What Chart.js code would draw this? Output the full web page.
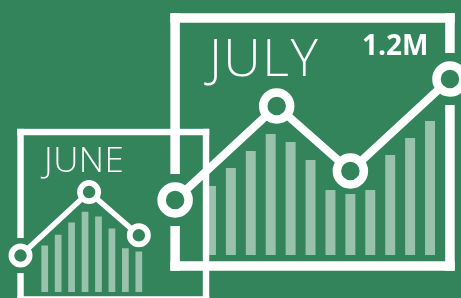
<!DOCTYPE html>
<html>
<head>
<meta charset="utf-8">
<script src="https://cdn.jsdelivr.net/npm/chart.js@4/dist/chart.umd.min.js"></script>
<style>
html, body { margin: 0; padding: 0; background: #33845b; overflow: hidden; }
#wrap { position: relative; width: 461px; height: 298px; }
canvas { position: absolute; left: 0; top: 0; }
.lbl { position: absolute; color: #fff; font-family: "Open Sans", sans-serif; line-height: 1; white-space: nowrap; }
</style>
</head>
<body>
<div id="wrap">
	<canvas id="julyChart" width="461" height="298"></canvas>
	<canvas id="juneChart" width="461" height="298"></canvas>
	<div class="lbl" style="left:209px;top:30px;font-size:52px;font-weight:350;letter-spacing:1.5px;">JULY</div>
	<div class="lbl" style="left:44px;top:141px;font-size:35px;font-weight:350;letter-spacing:0.5px;">JUNE</div>
	<div class="lbl" style="left:362px;top:30px;font-size:28px;font-weight:700;">1.2M</div>
</div>
<script>
var days = ['1', '2', '3', '4', '5', '6', '7', '8', '9', '10', '11', '12'];

var julyBars = [69, 87, 104, 121, 113, 95, 65, 61, 65, 100, 117, 134];
var julyLineX = [-1.8, 3.3, 7.0, 12.0];
var julyLineY = [55, 149, 84, 176];

var juneBars = [69, 85, 103, 119, 112, 94, 65, 60];
var juneLineX = [-1.8, 3.3, 7.0];
var juneLineY = [54, 148, 84];

// frame outline, in data units
var frameX = [-1.8, 12.0];
var frameY = [-11, 237];

var green = '#33845b';

// draws the white box round each chart, broken where a marker sits on it
var framePlugin = {
	id: 'frame',
	beforeDatasetsDraw: function (chart, args, opts) {
		var ctx = chart.ctx;
		var xs = chart.scales.x2, ys = chart.scales.y;
		var lw = opts.width;
		var l = xs.getPixelForValue(frameX[0]), r = xs.getPixelForValue(frameX[1]);
		var t = ys.getPixelForValue(frameY[1]), b = ys.getPixelForValue(frameY[0]);
		var pts = chart.getDatasetMeta(0).data;

		ctx.save();
		ctx.fillStyle = '#fff';
		ctx.fillRect(l - lw / 2, t - lw / 2, r - l + lw, lw);
		ctx.fillRect(l - lw / 2, b - lw / 2, r - l + lw, lw);

		[l, r].forEach(function (fx) {
			var cuts = [];
			pts.forEach(function (p) {
				if (Math.abs(p.x - fx) < 3) cuts.push([p.y - opts.gap, p.y + opts.gap]);
			});
			cuts.sort(function (a, c) { return a[0] - c[0]; });
			var y0 = t - lw / 2;
			cuts.forEach(function (c) {
				if (c[0] > y0) ctx.fillRect(fx - lw / 2, y0, lw, c[0] - y0);
				y0 = Math.max(y0, c[1]);
			});
			if (b + lw / 2 > y0) ctx.fillRect(fx - lw / 2, y0, lw, b + lw / 2 - y0);
		});
		ctx.restore();
	}
};

function build(id, bars, lx, ly, s, pad) {
	return new Chart(document.getElementById(id), {
		type: 'bar',
		data: {
			labels: days,
			datasets: [{
				type: 'line',
				data: lx.map(function (v, i) { return { x: v, y: ly[i] }; }),
				xAxisID: 'x2',
				yAxisID: 'y',
				order: 0,
				borderColor: '#fff',
				borderWidth: 8 * s,
				borderJoinStyle: 'round',
				pointRadius: 13.5 * s,
				// big hoverRadius only so points outside the chart area still get drawn (events are off)
				pointHoverRadius: 32 * s,
				pointBorderWidth: 8.5 * s,
				pointBackgroundColor: green,
				pointBorderColor: '#fff',
				tension: 0,
				clip: false
			}, {
				data: bars,
				xAxisID: 'x',
				yAxisID: 'y',
				backgroundColor: 'rgba(255,255,255,0.5)',
				grouped: false,
				barPercentage: 0.5,
				categoryPercentage: 1,
				order: 1
			}]
		},
		options: {
			responsive: false,
			animation: false,
			events: [],
			layout: { padding: pad, autoPadding: false },
			plugins: {
				legend: { display: false },
				tooltip: { enabled: false },
				frame: { width: 9.5 * s, gap: 26 * s }
			},
			scales: {
				x: { display: false, offset: true },
				x2: { type: 'linear', display: false, offset: false, min: -0.5, max: 11.5 },
				y: { display: false, min: 0, max: 200 }
			}
		},
		plugins: [framePlugin]
	});
}

build('julyChart', julyBars, julyLineX, julyLineY, 1, { left: 201, right: 21, top: 55, bottom: 43 });
build('juneChart', juneBars, juneLineX, juneLineY, 0.675, { left: 38, right: 261.7, top: 157, bottom: 6 });
</script>
</body>
</html>
